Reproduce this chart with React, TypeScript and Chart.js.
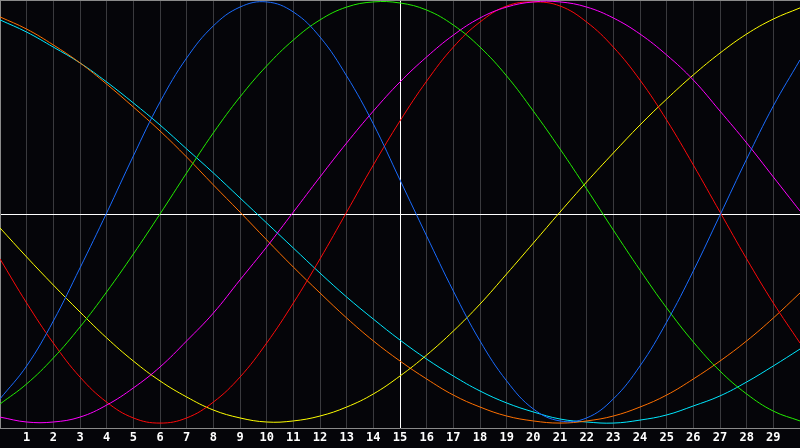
import { useEffect, useRef } from 'react';
import { Chart, registerables } from 'chart.js';

Chart.register(...registerables);

// positions along the x axis (one value per gridline, 0..30)
const xs = [0, 1, 2, 3, 4, 5, 6, 7, 8, 9, 10, 11, 12, 13, 14, 15, 16, 17, 18, 19, 20, 21, 22, 23, 24, 25, 26, 27, 28, 29, 30];

const blue = [-0.864, -0.71, -0.5, -0.252, 0.005, 0.271, 0.523, 0.729, 0.879, 0.967, 0.991, 0.944, 0.827, 0.645, 0.421, 0.159, -0.103, -0.36, -0.593, -0.78, -0.911, -0.967, -0.953, -0.864, -0.71, -0.505, -0.266, -0.005, 0.257, 0.505, 0.72];
const green = [-0.888, -0.794, -0.673, -0.528, -0.364, -0.187, 0, 0.192, 0.379, 0.547, 0.692, 0.813, 0.907, 0.967, 0.991, 0.986, 0.953, 0.883, 0.78, 0.645, 0.481, 0.304, 0.117, -0.075, -0.262, -0.439, -0.598, -0.734, -0.841, -0.921, -0.967];
const magenta = [-0.949, -0.972, -0.972, -0.949, -0.893, -0.813, -0.715, -0.593, -0.463, -0.308, -0.154, 0.009, 0.173, 0.332, 0.481, 0.617, 0.734, 0.836, 0.916, 0.967, 0.991, 0.991, 0.967, 0.916, 0.841, 0.743, 0.626, 0.481, 0.332, 0.173, 0.014];
const red = [-0.21, -0.416, -0.603, -0.762, -0.879, -0.953, -0.977, -0.953, -0.879, -0.762, -0.603, -0.416, -0.21, 0.009, 0.229, 0.435, 0.621, 0.78, 0.897, 0.972, 0.991, 0.972, 0.897, 0.78, 0.626, 0.439, 0.229, 0.009, -0.21, -0.416, -0.603];
const yellow = [-0.065, -0.201, -0.332, -0.458, -0.579, -0.687, -0.78, -0.855, -0.916, -0.953, -0.972, -0.967, -0.944, -0.902, -0.841, -0.757, -0.659, -0.547, -0.421, -0.28, -0.136, 0.009, 0.15, 0.285, 0.416, 0.537, 0.65, 0.752, 0.841, 0.911, 0.963];
const orange = [0.921, 0.864, 0.79, 0.706, 0.607, 0.5, 0.388, 0.266, 0.136, 0.009, -0.121, -0.248, -0.369, -0.486, -0.593, -0.687, -0.771, -0.846, -0.902, -0.944, -0.967, -0.977, -0.967, -0.944, -0.902, -0.846, -0.771, -0.687, -0.593, -0.486, -0.369];
const cyan = [0.907, 0.85, 0.78, 0.706, 0.617, 0.519, 0.416, 0.304, 0.192, 0.075, -0.042, -0.159, -0.276, -0.388, -0.491, -0.589, -0.678, -0.757, -0.827, -0.883, -0.925, -0.958, -0.972, -0.977, -0.963, -0.939, -0.897, -0.85, -0.785, -0.71, -0.631];

const series = [
  { values: blue, color: '#1a6cff' },
  { values: green, color: '#22ee00' },
  { values: magenta, color: '#ff00ff' },
  { values: red, color: '#ff0a0a' },
  { values: yellow, color: '#ffff00' },
  { values: orange, color: '#ff7000' },
  { values: cyan, color: '#00e8ff' },
];

export default function App() {
  const canvasRef = useRef<HTMLCanvasElement>(null);

  useEffect(() => {
    if (!canvasRef.current) return;
    const chart = new Chart(canvasRef.current, {
      type: 'line',
      data: {
        datasets: series.map(s => ({
          data: xs.map((x, i) => ({ x, y: s.values[i] })),
          borderColor: s.color,
          borderWidth: 1,
          pointRadius: 0,
          tension: 0.4,
          fill: false,
        })),
      },
      options: {
        animation: false,
        responsive: false,
        maintainAspectRatio: false,
        layout: { padding: 0 },
        plugins: { legend: { display: false }, tooltip: { enabled: false } },
        scales: {
          x: {
            type: 'linear',
            min: 0,
            max: 30,
            afterFit: (scale: any) => { scale.height = 20; },
            grid: {
              drawTicks: true,
              tickLength: 3,
              tickColor: 'transparent',
              color: (ctx: any) => (ctx.tick && ctx.tick.value === 15 ? '#ffffff' : '#3a3a3e'),
            },
            border: { color: '#8a8a8a' },
            ticks: {
              stepSize: 1,
              autoSkip: false,
              maxRotation: 0,
              padding: 0,
              color: '#ffffff',
              font: { family: 'DejaVu Sans Mono', size: 12, weight: 'bold' },
              callback: (v: any) => (v === 0 || v === 30 ? '' : String(v)),
            },
          },
          y: {
            min: -1,
            max: 1,
            afterFit: (scale: any) => { scale.width = 0; },
            grid: {
              drawTicks: false,
              color: (ctx: any) => {
                if (!ctx.tick) return 'transparent';
                if (ctx.tick.value === 0) return '#ffffff';
                if (ctx.tick.value === 1) return '#8a8a8a';
                return 'transparent';
              },
            },
            border: { color: '#8a8a8a' },
            ticks: { display: false, stepSize: 1, padding: 0 },
          },
        },
      },
    });
    return () => chart.destroy();
  }, []);

  return (
    <div style={{ position: 'fixed', left: 0, top: 0, width: 800, height: 448, background: '#050509' }}>
      <canvas ref={canvasRef} width={800} height={448} style={{ display: 'block' }} />
    </div>
  );
}
